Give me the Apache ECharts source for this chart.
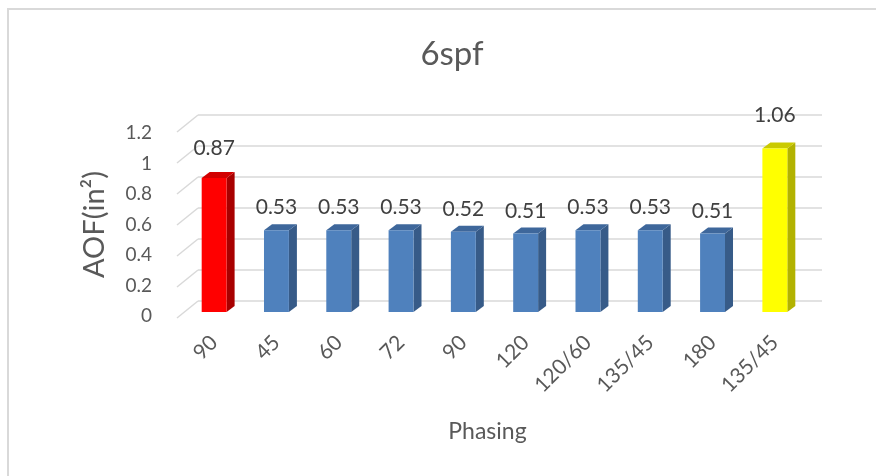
<!DOCTYPE html>
<html>
<head>
<meta charset="utf-8">
<script src="https://cdn.jsdelivr.net/npm/echarts@6/dist/echarts.min.js"></script>
<style>
html,body{margin:0;padding:0;background:#fff;}
#chart{width:876px;height:476px;}
</style>
</head>
<body>
<div id="chart"></div>
<script>
// ---- data ----
const categories = ['90', '45', '60', '72', '90', '120', '120/60', '135/45', '180', '135/45'];
const aofValues = [0.87, 0.53, 0.53, 0.53, 0.52, 0.51, 0.53, 0.53, 0.51, 1.06];
const yTicks = [0, 0.2, 0.4, 0.6, 0.8, 1.0, 1.2];
const titleText = '6spf';
const yName = 'AOF(in\u00B2)';
const xName = 'Phasing';

// ---- styles ----
const RED = {front:'#FF0000', side:'#A80000', top:'#D20000'};
const BLUE = {front:'#4F81BD', side:'#375B88', top:'#3E679B'};
const YEL = {front:'#FFFF00', side:'#B2B200', top:'#CACA00'};
const barStyles = [RED, BLUE, BLUE, BLUE, BLUE, BLUE, BLUE, BLUE, BLUE, YEL];
const DX = 8, DY = 6;
const FONT = 'Lato, "Open Sans", sans-serif';

const chart = echarts.init(document.getElementById('chart'), null, {renderer:'canvas'});

function renderBar(params, api){
  const i = api.value(0), v = api.value(1);
  const base = api.coord([i, 0]);
  const top = api.coord([i, v]);
  const w = api.size([1, 0])[0] * 0.4;
  const x0 = base[0] - w / 2, x1 = base[0] + w / 2, yb = base[1], yt = top[1];
  const c = barStyles[i];
  return {type:'group', children:[
    {type:'polygon', shape:{points:[[x1,yb],[x1+DX,yb-DY],[x1+DX,yt-DY],[x1,yt]]}, style:{fill:c.side}},
    {type:'polygon', shape:{points:[[x0,yt],[x0+DX,yt-DY],[x1+DX,yt-DY],[x1,yt]]}, style:{fill:c.top}},
    {type:'rect', shape:{x:x0, y:yt, width:w, height:yb-yt}, style:{fill:c.front}},
    {type:'text', style:{text:v.toFixed(2), x:base[0], y:yt - (12 + 20 * v), align:'center', verticalAlign:'middle', fill:'#404040', font:'21px ' + FONT}}
  ]};
}

function renderDiag(params, api){
  const p = api.coord([0, api.value(0)]);
  return {type:'line', shape:{x1:p[0], y1:p[1], x2:p[0]-21, y2:p[1]+17}, style:{stroke:'#D9D9D9', lineWidth:1.5}};
}

const option = {
  backgroundColor:'#fff',
  animation:false,
  title:{text:titleText, left:447, top:33, textAlign:'center', textStyle:{fontFamily:FONT, fontSize:33, fontWeight:'normal', color:'#595959'}},
  graphic:[{type:'rect', shape:{x:8, y:9, width:900, height:500}, style:{fill:'none', stroke:'#D9D9D9', lineWidth:2}, silent:true}],
  grid:[
    {left:183, right:70, top:127, bottom:164},   // bars (front plane)
    {left:198, right:54, top:115, bottom:175},   // back wall gridlines
    {left:177, right:54, top:133, bottom:160}    // y-axis labels
  ],
  xAxis:[
    {gridIndex:0, type:'category', data:categories,
     axisLine:{show:false}, axisTick:{show:false},
     axisLabel:{rotate:45, margin:27, interval:0, color:'#595959', fontFamily:FONT, fontSize:21},
     name:xName, nameLocation:'middle', nameGap:108,
     nameTextStyle:{fontFamily:FONT, fontSize:23, color:'#595959', padding:[0,14,0,0]}},
    {gridIndex:1, type:'value', min:0, max:1, show:false},
    {gridIndex:2, type:'value', min:0, max:1, show:false}
  ],
  yAxis:[
    {gridIndex:0, type:'value', min:0, max:1.2, interval:0.2, show:false},
    {gridIndex:1, type:'value', min:0, max:1.2, interval:0.2,
     axisLine:{show:false}, axisTick:{show:false}, axisLabel:{show:false},
     splitLine:{show:true, lineStyle:{color:'#D9D9D9', width:1.5}}},
    {gridIndex:2, type:'value', min:0, max:1.2, interval:0.2,
     axisLine:{show:false}, axisTick:{show:false}, splitLine:{show:false},
     axisLabel:{margin:25, color:'#595959', fontFamily:FONT, fontSize:19},
     name:yName, nameLocation:'middle', nameGap:68, nameRotate:90,
     nameTextStyle:{fontFamily:FONT, fontSize:29, color:'#595959'}}
  ],
  series:[
    {type:'custom', xAxisIndex:1, yAxisIndex:1, renderItem:renderDiag, data:yTicks.map(t => [t]), silent:true, z:1},
    {type:'custom', xAxisIndex:0, yAxisIndex:0, renderItem:renderBar,
     data:aofValues.map((v, i) => [i, v]), z:5}
  ]
};
chart.setOption(option);
</script>
</body>
</html>
